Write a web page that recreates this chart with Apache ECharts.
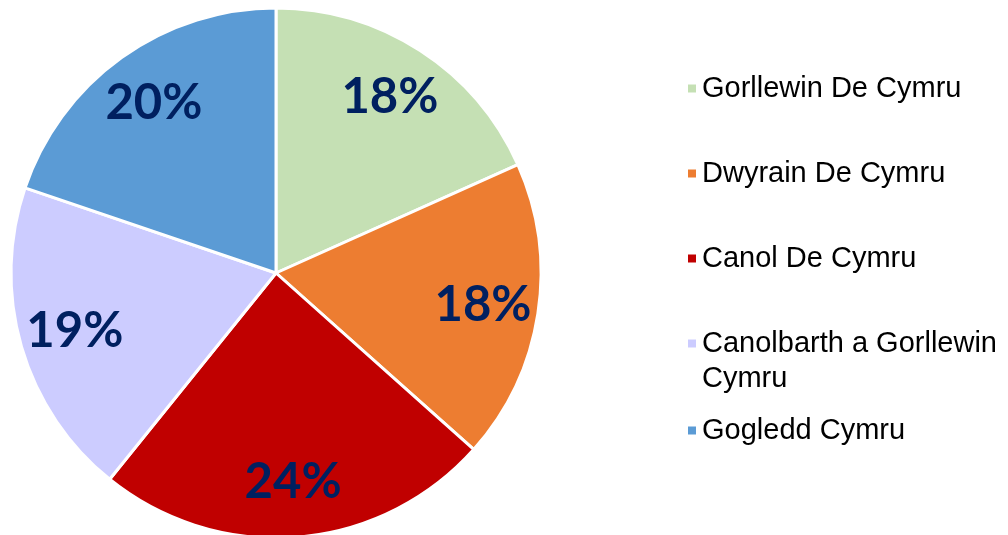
<!DOCTYPE html>
<html>
<head>
<meta charset="utf-8">
<script src="https://cdn.jsdelivr.net/npm/echarts@6/dist/echarts.min.js"></script>
<style>
  html, body { margin: 0; padding: 0; background: #fff; }
  #chart { width: 1008px; height: 535px; }
</style>
</head>
<body>
<div id="chart"></div>
<script>
// regions and their shares (percent)
const regions = ['Gorllewin De Cymru', 'Dwyrain De Cymru', 'Canol De Cymru', 'Canolbarth a Gorllewin Cymru', 'Gogledd Cymru'];
const shares = [18.3, 18.3, 24.2, 19.4, 19.8];
const colors = ['#C5E0B4', '#ED7D31', '#C00000', '#CCCCFF', '#5B9BD5'];

const chart = echarts.init(document.getElementById('chart'));

const pieData = regions.map((name, i) => ({
  name: name,
  value: shares[i],
  itemStyle: {color: colors[i]}
}));

const legendText = {
  fontFamily: '"Liberation Sans", Arial, sans-serif',
  fontSize: 29,
  lineHeight: 35,
  color: '#000'
};

// legend text; the long name wraps, with a blank first line so the
// marker lines up with its first row
function legendLabel(n) {
  if (n === 'Canolbarth a Gorllewin Cymru') return '\u00a0\nCanolbarth a Gorllewin\nCymru';
  return n;
}

function legendBox(names, top) {
  return {
    orient: 'vertical',
    left: 686,
    top: top,
    padding: 0,
    itemWidth: 10,
    itemHeight: 10,
    itemGap: 50,
    icon: 'rect',
    selectedMode: false,
    data: names,
    formatter: legendLabel,
    textStyle: legendText
  };
}

chart.setOption({
  animation: false,
  legend: [
    legendBox(regions.slice(0, 3), 71),
    legendBox([regions[3]], 291),
    legendBox([regions[4]], 413)
  ],
  series: [
    {
      type: 'pie',
      center: [276, 273],
      radius: [0, 265],
      startAngle: 90,
      clockwise: true,
      itemStyle: {borderColor: '#fff', borderWidth: 3},
      label: {show: false},
      labelLine: {show: false},
      emphasis: {disabled: true},
      data: pieData
    },
    {
      // transparent ring used only to place the percentage labels
      type: 'pie',
      center: [276, 273],
      radius: [148, 265],
      startAngle: 90,
      clockwise: true,
      silent: true,
      itemStyle: {color: 'transparent', borderWidth: 0},
      label: {
        show: true,
        position: 'inside',
        formatter: p => Math.round(p.value) + '%',
        fontFamily: 'Lato, "Open Sans", sans-serif',
        fontWeight: 'bold',
        fontSize: 49,
        color: '#002060'
      },
      labelLine: {show: false},
      emphasis: {disabled: true},
      data: regions.map((name, i) => ({name: name, value: shares[i]}))
    }
  ]
});
</script>
</body>
</html>
